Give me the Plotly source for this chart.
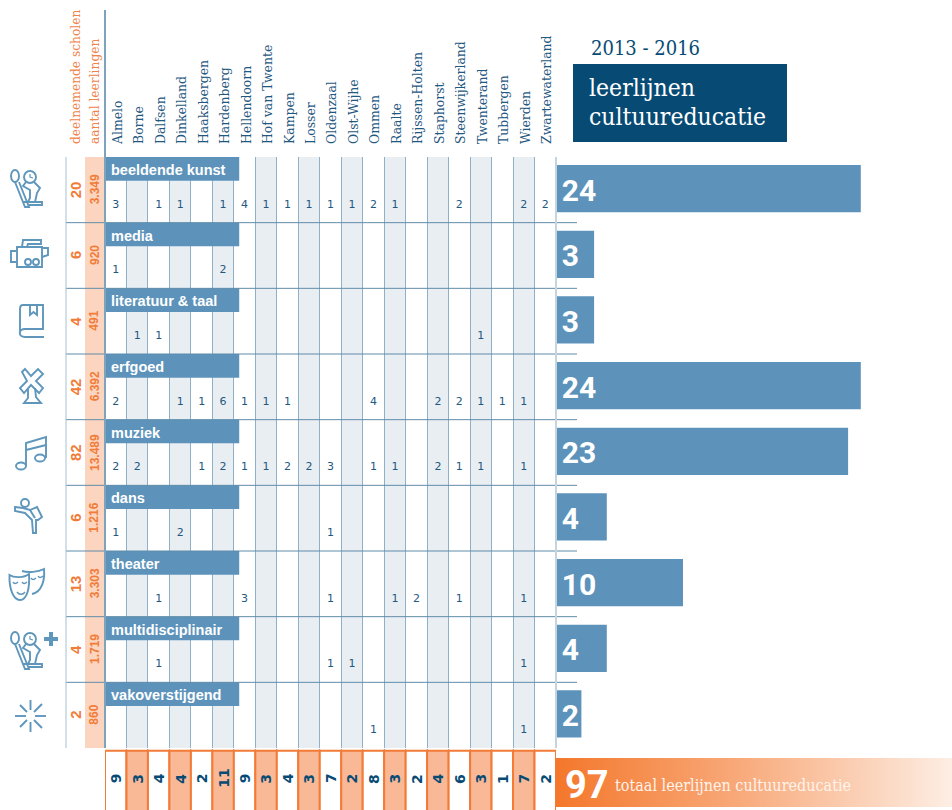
import re
import plotly.graph_objects as go

W, H = 952, 810

municipalities = ["Almelo", "Borne", "Dalfsen", "Dinkelland", "Haaksbergen", "Hardenberg", "Hellendoorn",
                  "Hof van Twente", "Kampen", "Losser", "Oldenzaal", "Olst-Wijhe", "Ommen", "Raalte",
                  "Rijssen-Holten", "Staphorst", "Steenwijkerland", "Twenterand", "Tubbergen", "Wierden",
                  "Zwartewaterland"]
disciplines = ["beeldende kunst", "media", "literatuur & taal", "erfgoed", "muziek", "dans", "theater",
               "multidisciplinair", "vakoverstijgend"]
schools = [20, 6, 4, 42, 82, 6, 13, 4, 2]
pupils = ["3.349", "920", "491", "6.392", "13.489", "1.216", "3.303", "1.719", "860"]
row_totals = [24, 3, 3, 24, 23, 4, 10, 4, 2]
col_totals = [9, 3, 4, 4, 2, 11, 9, 3, 4, 3, 7, 2, 8, 3, 2, 4, 6, 3, 1, 7, 2]

beeldende = [3, 0, 1, 1, 0, 1, 4, 1, 1, 1, 1, 1, 2, 1, 0, 0, 2, 0, 0, 2, 2]
media = [1, 0, 0, 0, 0, 2, 0, 0, 0, 0, 0, 0, 0, 0, 0, 0, 0, 0, 0, 0, 0]
literatuur = [0, 1, 1, 0, 0, 0, 0, 0, 0, 0, 0, 0, 0, 0, 0, 0, 0, 1, 0, 0, 0]
erfgoed = [2, 0, 0, 1, 1, 6, 1, 1, 1, 0, 0, 0, 4, 0, 0, 2, 2, 1, 1, 1, 0]
muziek = [2, 2, 0, 0, 1, 2, 1, 1, 2, 2, 3, 0, 1, 1, 0, 2, 1, 1, 0, 1, 0]
dans = [1, 0, 0, 2, 0, 0, 0, 0, 0, 0, 1, 0, 0, 0, 0, 0, 0, 0, 0, 0, 0]
theater = [0, 0, 1, 0, 0, 0, 3, 0, 0, 0, 1, 0, 0, 1, 2, 0, 1, 0, 0, 1, 0]
multi = [0, 0, 1, 0, 0, 0, 0, 0, 0, 0, 1, 1, 0, 0, 0, 0, 0, 0, 0, 1, 0]
vako = [0, 0, 0, 0, 0, 0, 0, 0, 0, 0, 0, 0, 1, 0, 0, 0, 0, 0, 0, 1, 0]
matrix = [beeldende, media, literatuur, erfgoed, muziek, dans, theater, multi, vako]

SERIF = "DejaVu Serif Condensed, DejaVu Serif"
SANS = "Liberation Sans"
NAVY = "#074B75"
TXT = "#1F5880"
BLUE = "#5D93BB"
ORANGE = "#F27B37"
ICON = "#5F96BC"
LINE = "#7FA3BB"


def px(x):
    return x / W


def py(y):
    return 1 - y / H


def path(d):
    out, is_x = [], True
    for tok in re.findall(r"[MLCQZ]|-?\d+\.?\d*", d):
        if tok in "MLCQZ":
            out.append(tok)
            is_x = True
        else:
            out.append(f"{px(float(tok)) if is_x else py(float(tok)):.5f}")
            is_x = not is_x
    return " ".join(out)


shapes = []


def icon(d, width=1.9, fill=None):
    shapes.append(dict(type="path", path=path(d), xref="paper", yref="paper",
                       line=dict(color=ICON, width=width), fillcolor=fill or "rgba(0,0,0,0)", layer="above"))


def ring(cx, cy, rx, ry=None, width=1.9):
    ry = ry or rx
    k = 0.55
    icon(f"M {cx-rx} {cy} C {cx-rx} {cy-k*ry} {cx-k*rx} {cy-ry} {cx} {cy-ry} "
         f"C {cx+k*rx} {cy-ry} {cx+rx} {cy-k*ry} {cx+rx} {cy} "
         f"C {cx+rx} {cy+k*ry} {cx+k*rx} {cy+ry} {cx} {cy+ry} "
         f"C {cx-k*rx} {cy+ry} {cx-rx} {cy+k*ry} {cx-rx} {cy} Z", width)


def bust(dy):
    ring(30, 177 + dy, 6)
    icon(f"M 30 {174+dy} L 30 {177+dy} L 33 {178+dy}", 1.2)
    icon(f"M 26 {182+dy} L 23 {186+dy} L 30 {190+dy} L 30 {198+dy} L 28 {202+dy} M 34 {182+dy} L 40 {188+dy} "
         f"L 37 {193+dy} L 35 {202+dy} M 23 {202+dy} L 42 {202+dy} L 42 {205+dy} L 29 {205+dy}")
    ring(15, 176 + dy, 4, 6)
    icon(f"M 15 {182+dy} L 25 {207+dy} L 29 {207+dy} L 19 {182+dy}")


# icons
bust(0)
bust(462)
icon("M 17 247 L 42 247 L 42 267 L 17 267 Z")
icon("M 17 251 L 11 251 L 11 262 L 17 262")
icon("M 42 248 L 48 248 L 48 255 L 42 257")
icon("M 22 247 L 23 240 L 41 240 L 41 244 L 28 244 L 27 247")
ring(28, 262, 3)
ring(36, 262, 3)
icon("M 23 305 L 43 305 L 43 329 L 25 329 C 18 329 18 337 25 337 L 44 337 M 23 305 C 20 305 20 307 20 309 L 20 333")
icon("M 30 305 L 30 315 L 33.5 312 L 37 315 L 37 305")
icon("M 22 372 L 25 369 L 31 376 L 38 369 L 43 374 L 36 381 L 43 388 L 39 393 L 31 385 L 24 393 L 20 388 L 27 381 Z")
icon("M 28 388 L 28 398 L 24 403 L 41 403 L 36 397 L 35 388")
ring(21, 466, 5, 3.5)
ring(40, 458, 5, 3.5)
icon("M 26 466 L 26 443 L 46 437 L 46 458 M 26 450 L 46 445")
ring(25, 503, 4)
icon("M 15 507 L 23 508 L 30 510 L 37 507 L 42 517 L 38 520 L 36 520 L 36 533 L 33 533 L 32 520 L 25 513 L 15 511 Z")
icon("M 30 510 L 35 518")
icon("M 9.5 575 C 14 578 24 578 29 574 C 30 588 27 600 20 600 C 13 600 9 588 9.5 575 Z")
icon("M 22 571 C 28 573 38 572 44 569 C 45 580 42 592 32 594")
icon("M 13 582 C 14 584 16 584 18 582 M 22 582 C 23 584 25 584 27 582 M 17 592 C 19 595 23 595 25 592 "
     "M 31 578 C 32 580 34 580 36 578 M 38 576 C 39 578 41 578 43 576", 1.4)
shapes.append(dict(type="path", path=path("M 49 632 L 53 632 L 53 637 L 58 637 L 58 641 L 53 641 L 53 646 L 49 646 L 49 641 L 44 641 L 44 637 L 49 637 Z"),
                   xref="paper", yref="paper", line=dict(width=0), fillcolor=ICON, layer="above"))
for a, b in [((30.5, 700), (30.5, 710)), ((30.5, 722), (30.5, 732)), ((15, 716), (26, 716)), ((35, 716), (46, 716)),
             ((20, 705), (27, 712)), ((34, 712), (42, 704)), ((20, 727), (27, 720)), ((34, 720), (42, 728))]:
    icon(f"M {a[0]} {a[1]} L {b[0]} {b[1]}")

n_col, n_row = len(municipalities), len(disciplines)
fig = go.Figure()

# column shading
for c in range(1, n_col, 2):
    shapes.append(dict(type="rect", xref="x", yref="y", x0=c - 0.5, x1=c + 0.5, y0=-0.5, y1=n_row - 0.5,
                       fillcolor="#E9EEF3", line=dict(width=0), layer="below"))
# frame lines
for r in range(1, n_row):
    shapes.append(dict(type="line", xref="paper", yref="y", x0=px(66), x1=px(577), y0=r - 0.5, y1=r - 0.5,
                       line=dict(color="#5F8CA9", width=1), layer="above"))
shapes.append(dict(type="line", xref="paper", yref="paper", x0=px(105), x1=px(105), y0=py(10), y1=py(748),
                   line=dict(color=LINE, width=2), layer="above"))
shapes.append(dict(type="line", xref="paper", yref="paper", x0=px(66), x1=px(66), y0=py(157), y1=py(748),
                   line=dict(color="#A9C0D0", width=1), layer="above"))
shapes.append(dict(type="line", xref="paper", yref="paper", x0=px(556), x1=px(556), y0=py(157), y1=py(748),
                   line=dict(color="#C5D5E0", width=2), layer="above"))

ys = list(range(n_row))

# discipline bands
fig.add_trace(go.Bar(x=[6.25] * n_row, base=[-0.5] * n_row, y=ys, orientation="h", width=0.36, offset=-0.5,
                     marker=dict(color=BLUE, line=dict(width=0)), xaxis="x", yaxis="y", hoverinfo="skip"))
fig.add_trace(go.Scatter(x=[-0.22] * n_row, y=[r - 0.28 for r in ys], text=disciplines, mode="text",
                         textposition="middle right",
                         textfont=dict(family=SANS, size=14.5, color="white", weight="bold"),
                         xaxis="x", yaxis="y", hoverinfo="skip"))

# matrix values
mx, my, mt = [], [], []
for r, row in enumerate(matrix):
    for c, v in enumerate(row):
        if v:
            mx.append(c)
            my.append(r + 0.23)
            mt.append(str(v))
fig.add_trace(go.Scatter(x=mx, y=my, text=mt, mode="text", textposition="middle center",
                         textfont=dict(family="DejaVu Sans", size=11, color=TXT),
                         xaxis="x", yaxis="y", hoverinfo="skip"))

# right bars
fig.add_trace(go.Bar(x=row_totals, y=ys, orientation="h", width=0.72, offset=-0.378,
                     marker=dict(color=BLUE, line=dict(width=0)), xaxis="x2", yaxis="y", hoverinfo="skip"))
fig.add_trace(go.Scatter(x=[0.45] * n_row, y=[r + 0.05 for r in ys], text=[str(v) for v in row_totals], mode="text",
                         textposition="middle right",
                         textfont=dict(family="Roboto", size=30, color="white", weight="bold"),
                         xaxis="x2", yaxis="y", hoverinfo="skip"))

# peach band
fig.add_trace(go.Bar(x=[1] * n_row, base=[1] * n_row, y=ys, orientation="h", width=1,
                     marker=dict(color="#FBD5BF", line=dict(width=0)), xaxis="x3", yaxis="y", hoverinfo="skip"))

# bottom totals
fig.add_trace(go.Bar(x=list(range(n_col)), y=[1.1] * n_col, base=[-0.1] * n_col, width=1,
                     marker=dict(color=["#FFFFFF" if c % 2 == 0 else "#F9B996" for c in range(n_col)],
                                 line=dict(color=ORANGE, width=2)),
                     xaxis="x", yaxis="y2", hoverinfo="skip"))

# total gradient bar
grad_max = (W - 556) / 12.7
fig.add_trace(go.Scatter(x=[0, grad_max, grad_max, 0, 0], y=[0.05, 0.05, 0.88, 0.88, 0.05], mode="lines",
                         line=dict(width=0), fill="toself",
                         fillgradient=dict(type="horizontal",
                                           colorscale=[[0, "#F4772B"], [0.45, "#F8A878"], [1, "#FDEEE4"]]),
                         xaxis="x2", yaxis="y2", hoverinfo="skip"))

annotations = []
for r in ys:
    annotations.append(dict(x=0.5, y=r, xref="x3", yref="y", text=f"<b>{schools[r]}</b>", textangle=-90,
                            showarrow=False, font=dict(family=SANS, size=15, color=ORANGE)))
    annotations.append(dict(x=1.5, y=r, xref="x3", yref="y", text=f"<b>{pupils[r]}</b>", textangle=-90,
                            showarrow=False, font=dict(family=SANS, size=12, color=ORANGE)))
for c in range(n_col):
    annotations.append(dict(x=c, y=0.53, xref="x", yref="y2", text=f"<b>{col_totals[c]}</b>", textangle=-90,
                            showarrow=False, font=dict(family="DejaVu Sans", size=14, color=NAVY)))
annotations.append(dict(x=0.55, y=0.43, xref="x2", yref="y2", text=f"<b>{sum(col_totals)}</b>", showarrow=False,
                        xanchor="left", yanchor="middle", font=dict(family="Roboto", size=38, color="white")))
annotations.append(dict(x=4.45, y=0.42, xref="x2", yref="y2", text="totaal leerlijnen cultuureducatie",
                        showarrow=False, xanchor="left", yanchor="middle",
                        font=dict(family=SERIF, size=16, color="#FFF3EA")))
annotations.append(dict(x=px(589), y=py(48), xref="paper", yref="paper", text="2013 - 2016", showarrow=False,
                        xanchor="left", yanchor="middle", font=dict(family=SERIF, size=20, color=NAVY)))
annotations.append(dict(x=px(587), y=py(88), xref="paper", yref="paper", text="leerlijnen", showarrow=False,
                        xanchor="left", yanchor="middle", font=dict(family=SERIF, size=24.5, color="white")))
annotations.append(dict(x=px(587), y=py(116), xref="paper", yref="paper", text="cultuureducatie", showarrow=False,
                        xanchor="left", yanchor="middle", font=dict(family=SERIF, size=24.5, color="white")))
shapes.append(dict(type="rect", xref="paper", yref="paper", x0=px(573), x1=px(787), y0=py(64), y1=py(142),
                   fillcolor=NAVY, line=dict(width=0), layer="below"))

hidden = dict(showgrid=False, zeroline=False, showline=False, showticklabels=False, ticks="", fixedrange=True)

fig.update_layout(
    width=W, height=H, margin=dict(l=0, r=0, t=0, b=0), paper_bgcolor="white", plot_bgcolor="rgba(0,0,0,0)",
    showlegend=False, barmode="overlay", shapes=shapes, annotations=annotations,
    xaxis=dict(domain=[px(105), px(556)], range=[-0.5, n_col - 0.5], anchor="y", side="top",
               tickmode="array", tickvals=[c + 0.07 for c in range(n_col)], ticktext=municipalities, tickangle=-90,
               ticklabelstandoff=12, ticks="", showgrid=False, zeroline=False, showline=False, fixedrange=True,
               tickfont=dict(family=SERIF, size=13.8, color=TXT),
               minor=dict(tickmode="array", tickvals=[c - 0.5 for c in range(1, n_col)], showgrid=True,
                          gridcolor="#8FB0C6", gridwidth=1, ticks="")),
    yaxis=dict(domain=[py(748), py(157)], range=[n_row - 0.5, -0.5], anchor="x", **hidden),
    xaxis2=dict(domain=[px(556), 1], range=[0, grad_max], anchor="y", **hidden),
    xaxis3=dict(domain=[px(66), px(104)], range=[0, 2], anchor="y", side="top",
                tickmode="array", tickvals=[0.5, 1.5], ticktext=["deelnemende scholen", "aantal leerlingen"],
                tickangle=-90, ticklabelstandoff=12, ticks="", showgrid=False, zeroline=False, showline=False,
                fixedrange=True, tickfont=dict(family=SERIF, size=13.6, color="#F0834A")),
    yaxis2=dict(domain=[0, py(749)], range=[0, 1.03], anchor="x", **hidden),
)

fig.write_html("out.html", config=dict(displayModeBar=False),
               post_script="document.body.style.margin='0';document.documentElement.style.overflow='hidden';")
